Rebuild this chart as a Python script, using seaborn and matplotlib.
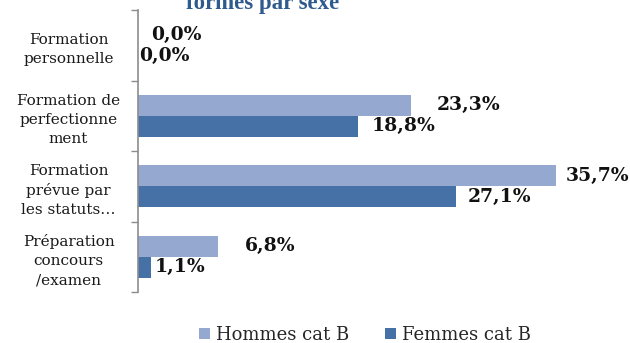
import matplotlib
matplotlib.use("Agg")
import matplotlib.pyplot as plt
import seaborn as sns
import pandas as pd
import numpy as np

# Training types (top to bottom) and share of trained agents by sex, in %
categories = [
    "Formation\npersonnelle",
    "Formation de\nperfectionne\nment",
    "Formation\nprévue par\nles statuts…",
    "Préparation\nconcours\n/examen",
]
hommes = [0.0, 23.3, 35.7, 6.8]
femmes = [0.0, 18.8, 27.1, 1.1]
series = ["Hommes cat B", "Femmes cat B"]
title_line = "formés par sexe"

colors = {"Hommes cat B": "#94A8D0", "Femmes cat B": "#4571A7"}

df = pd.DataFrame({
    "categorie": categories * 2,
    "valeur": hommes + femmes,
    "serie": [series[0]] * len(categories) + [series[1]] * len(categories),
})

sns.set_theme(style="white")
plt.rcParams["font.family"] = ["DejaVu Serif"]

W, H = 630, 343
fig = plt.figure(figsize=(W / 100, H / 100), dpi=100)
ax = fig.add_axes([138 / W, 1 - 292 / H, 480 / W, 282 / H])

sns.barplot(data=df, y="categorie", x="valeur", hue="serie", order=categories,
            hue_order=series, palette=colors, orient="h", width=0.6,
            saturation=1, linewidth=0, ax=ax, legend=True)

ax.set_xlim(0, 480 / 11.72)
ax.set_xlabel("")
ax.set_ylabel("")
ax.set_xticks([])

# category labels centred in the left margin, ticks on the band boundaries
ax.set_yticks(range(len(categories)))
ax.set_yticklabels(categories, ha="center", multialignment="center",
                   fontsize=11, color="#1a1a1a", linespacing=1.45)
ax.tick_params(axis="y", which="major", length=0, pad=50)
ax.set_yticks(np.arange(-0.5, len(categories) + 0.5, 1), minor=True)
ax.tick_params(axis="y", which="minor", length=5, width=1, color="#8c8c8c",
               direction="out", left=True)

for side in ["top", "right", "bottom"]:
    ax.spines[side].set_visible(False)
ax.spines["left"].set_color("#8c8c8c")
ax.spines["left"].set_linewidth(1.2)

# value labels, nudged right of each bar end (pixels)
nudge = {
    "Hommes cat B": [13, 26, 9, 27],
    "Femmes cat B": [1, 13, 12, 4],
}
for container, name in zip(ax.containers, series):
    for i, bar in enumerate(container):
        v = bar.get_width()
        y = bar.get_y() + bar.get_height() / 2
        ax.annotate(f"{v:.1f}%".replace(".", ","), xy=(v, y),
                    xytext=(nudge[name][i] * 0.72, 0), textcoords="offset points",
                    ha="left", va="center", fontsize=13.5, fontweight="bold",
                    color="#111111", annotation_clip=False)

handles, labels = ax.get_legend_handles_labels()
ax.get_legend().remove()
fig.legend(handles, labels, loc="center", bbox_to_anchor=(365 / W, 1 - 335 / H),
           ncol=2, frameon=False, fontsize=13, handlelength=0.6,
           handleheight=0.6, handletextpad=0.35, columnspacing=2.0)

fig.text(263 / W, 1 - 9 / H, title_line, ha="center", va="baseline",
         fontsize=16.5, fontweight="bold", color="#2F5A8E",
         family=["Liberation Serif"])

fig.savefig("out.png", dpi=100)
